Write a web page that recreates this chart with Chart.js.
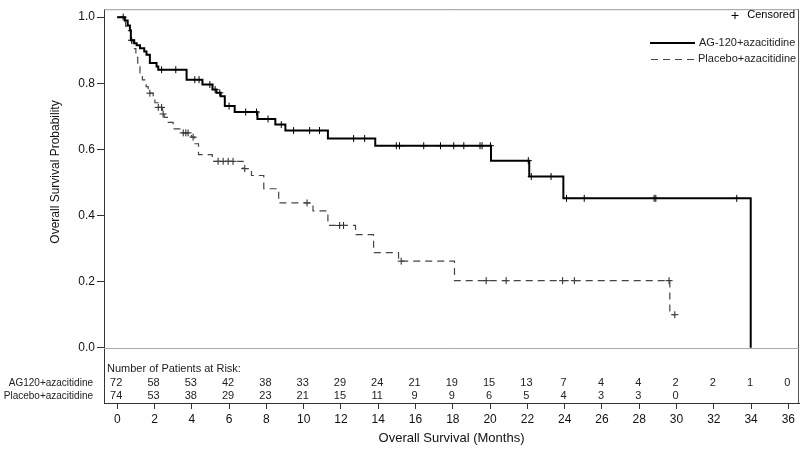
<!DOCTYPE html>
<html>
<head>
<meta charset="utf-8">
<script src="https://cdn.jsdelivr.net/npm/chart.js@4.4.1/dist/chart.umd.min.js"></script>
<style>
  html, body { margin: 0; padding: 0; background: #fff; }
</style>
</head>
<body>
<canvas id="km" width="804" height="457"></canvas>
<script>
// x axis ticks (months)
var monthTicks = [0, 2, 4, 6, 8, 10, 12, 14, 16, 18, 20, 22, 24, 26, 28, 30, 32, 34, 36];
var probTicks = [0, 0.2, 0.4, 0.6, 0.8, 1.0];

// AG-120+azacitidine: event times and survival after each step
var agTimes = [0, 0.41, 0.56, 0.68, 0.73, 0.91, 1.04, 1.22, 1.45, 1.57, 1.75, 2.11, 2.20, 3.72, 4.57, 5.11, 5.32, 5.55, 5.77, 6.30, 7.52, 8.48, 9.02, 11.30, 13.84, 20.05, 22.10, 23.93, 33.98];
var agSurv  = [1.0, 0.990, 0.975, 0.960, 0.930, 0.921, 0.915, 0.906, 0.896, 0.886, 0.861, 0.851, 0.841, 0.811, 0.796, 0.781, 0.771, 0.761, 0.731, 0.713, 0.692, 0.675, 0.657, 0.633, 0.611, 0.566, 0.518, 0.452, 0];
var agCensor = [0.32, 0.77, 2.38, 3.14, 4.16, 4.39, 4.97, 5.25, 5.50, 6.0, 6.89, 7.47, 8.09, 8.8, 9.46, 10.32, 10.85, 12.68, 13.27, 14.97, 15.14, 16.44, 17.34, 18.05, 18.59, 19.46, 19.57, 20.02, 22.05, 22.21, 23.27, 24.10, 25.05, 28.80, 28.89, 33.23];

// Placebo+azacitidine
var plTimes = [0, 0.30, 0.45, 0.60, 0.72, 0.85, 1.00, 1.10, 1.22, 1.35, 1.55, 1.66, 1.93, 2.02, 2.20, 2.43, 2.52, 2.73, 3.00, 3.36, 3.98, 4.16, 4.36, 5.10, 6.75, 7.20, 7.86, 8.66, 10.50, 11.30, 12.78, 13.75, 15.09, 18.09, 29.64, 29.91];
var plSurv  = [1.0, 0.986, 0.973, 0.959, 0.932, 0.905, 0.878, 0.851, 0.824, 0.810, 0.790, 0.770, 0.756, 0.741, 0.727, 0.707, 0.697, 0.682, 0.662, 0.650, 0.637, 0.617, 0.584, 0.564, 0.542, 0.521, 0.481, 0.438, 0.414, 0.370, 0.342, 0.288, 0.262, 0.203, 0.100, 0.100];
var plCensor = [1.75, 2.20, 2.38, 2.46, 3.54, 3.68, 3.80, 4.07, 5.41, 5.68, 5.95, 6.21, 6.84, 10.18, 11.93, 12.14, 15.23, 19.79, 20.86, 23.89, 24.52, 29.60, 29.91];

// number at risk at each 2-month tick
var agAtRisk = [72, 58, 53, 42, 38, 33, 29, 24, 21, 19, 15, 13, 7, 4, 4, 2, 2, 1, 0];
var plAtRisk = [74, 53, 38, 29, 23, 21, 15, 11, 9, 9, 6, 5, 4, 3, 3, 0];

var agLabel = 'AG-120+azacitidine';
var plLabel = 'Placebo+azacitidine';

function survAt(times, surv, t) {
    var s = surv[0];
    for (var i = 0; i < times.length; i++) {
        if (times[i] <= t) s = surv[i];
    }
    return s;
}

function stepPoints(times, surv) {
    return times.map(function (t, i) { return { x: t, y: surv[i] }; });
}

function censorPoints(cens, times, surv) {
    return cens.map(function (t) { return { x: t, y: survAt(times, surv, t) }; });
}

var FONT = '"Liberation Sans", Arial, sans-serif';

var decor = {
    id: 'kmDecor',
    beforeDatasetsDraw: function (chart) {
        var ctx = chart.ctx, a = chart.chartArea, y = chart.scales.y;
        ctx.save();
        // frame top / right
        ctx.strokeStyle = '#9a9a9a';
        ctx.lineWidth = 1;
        ctx.beginPath();
        ctx.moveTo(a.left, a.top + 0.5);
        ctx.lineTo(a.right - 0.5, a.top + 0.5);
        ctx.stroke();
        ctx.strokeStyle = '#555';
        ctx.beginPath();
        ctx.moveTo(a.right - 0.5, a.top);
        ctx.lineTo(a.right - 0.5, a.bottom);
        ctx.stroke();
        // reference line at 0
        var y0 = Math.round(y.getPixelForValue(0)) + 0.5;
        ctx.strokeStyle = '#aaaaaa';
        ctx.beginPath();
        ctx.moveTo(a.left, y0);
        ctx.lineTo(a.right, y0);
        ctx.stroke();
        ctx.restore();
    },
    afterDraw: function (chart) {
        var ctx = chart.ctx, a = chart.chartArea, x = chart.scales.x;
        ctx.save();
        ctx.fillStyle = '#222';
        ctx.textBaseline = 'middle';

        // risk table
        ctx.font = '11px ' + FONT;
        ctx.textAlign = 'left';
        ctx.fillText('Number of Patients at Risk:', a.left + 3, 369);
        ctx.textAlign = 'right';
        ctx.font = '10px ' + FONT;
        ctx.fillText('AG120+azacitidine', 93, 383);
        ctx.fillText(plLabel, 93, 396);
        ctx.font = '11px ' + FONT;
        ctx.textAlign = 'center';
        agAtRisk.forEach(function (n, i) {
            ctx.fillText(String(n), x.getPixelForValue(monthTicks[i]) - 1, 383);
        });
        plAtRisk.forEach(function (n, i) {
            ctx.fillText(String(n), x.getPixelForValue(monthTicks[i]) - 1, 396);
        });

        // axis titles
        ctx.fillStyle = '#111';
        ctx.font = '13px ' + FONT;
        ctx.fillText('Overall Survival (Months)', (a.left + a.right) / 2, 438);
        ctx.save();
        ctx.translate(56, 172);
        ctx.rotate(-Math.PI / 2);
        ctx.font = '12px ' + FONT;
        ctx.fillText('Overall Survival Probability', 0, 0);
        ctx.restore();

        // legend
        ctx.fillStyle = '#000';
        ctx.font = '11px ' + FONT;
        ctx.textAlign = 'right';
        ctx.fillText('Censored', 795, 15);
        ctx.strokeStyle = '#000';
        ctx.lineWidth = 1;
        ctx.beginPath();
        ctx.moveTo(731.5, 15.5); ctx.lineTo(738.5, 15.5);
        ctx.moveTo(735, 12); ctx.lineTo(735, 19);
        ctx.stroke();

        ctx.font = '11px ' + FONT;
        ctx.textAlign = 'left';
        ctx.fillStyle = '#222';
        ctx.fillText(agLabel, 699, 43);
        ctx.fillText(plLabel, 698, 59);
        ctx.lineWidth = 2;
        ctx.beginPath();
        ctx.moveTo(650, 43); ctx.lineTo(695, 43);
        ctx.stroke();
        ctx.lineWidth = 1.2;
        ctx.strokeStyle = '#444';
        ctx.setLineDash([7, 5]);
        ctx.beginPath();
        ctx.moveTo(651, 59.5); ctx.lineTo(695, 59.5);
        ctx.stroke();
        ctx.restore();
    }
};

new Chart(document.getElementById('km'), {
    type: 'line',
    data: {
        datasets: [
            {
                label: agLabel,
                data: stepPoints(agTimes, agSurv),
                stepped: 'before',
                borderColor: '#000',
                borderWidth: 2,
                pointRadius: 0,
                fill: false
            },
            {
                label: plLabel,
                data: stepPoints(plTimes, plSurv),
                stepped: 'before',
                borderColor: '#444',
                borderWidth: 1.2,
                borderDash: [7, 5],
                pointRadius: 0,
                fill: false
            },
            {
                label: 'AG censored',
                data: censorPoints(agCensor, agTimes, agSurv),
                showLine: false,
                pointStyle: 'cross',
                pointRadius: 3.5,
                borderColor: '#000',
                pointBorderWidth: 1
            },
            {
                label: 'Placebo censored',
                data: censorPoints(plCensor, plTimes, plSurv),
                showLine: false,
                pointStyle: 'cross',
                pointRadius: 3.5,
                borderColor: '#222',
                pointBorderWidth: 1
            }
        ]
    },
    options: {
        responsive: false,
        animation: false,
        devicePixelRatio: 1,
        layout: { padding: { top: 4, right: 4, left: 0, bottom: 0 } },
        plugins: {
            legend: { display: false },
            tooltip: { enabled: false }
        },
        scales: {
            x: {
                type: 'linear',
                min: -0.71,
                max: 36.57,
                afterBuildTicks: function (s) { s.ticks = monthTicks.map(function (v) { return { value: v }; }); },
                afterFit: function (s) { s.height = 54; },
                grid: { drawOnChartArea: false, tickLength: 6, tickColor: '#333' },
                border: { color: '#333' },
                ticks: { color: '#111', font: { size: 12, family: FONT }, padding: 3, maxRotation: 0, autoSkip: false }
            },
            y: {
                min: -0.167,
                max: 1.024,
                afterBuildTicks: function (s) { s.ticks = probTicks.map(function (v) { return { value: v }; }); },
                afterFit: function (s) { s.width = 104; },
                grid: { drawOnChartArea: false, tickLength: 7, tickColor: '#333' },
                border: { color: '#333' },
                ticks: {
                    color: '#111',
                    font: { size: 12, family: FONT },
                    padding: 2,
                    callback: function (v) { return Number(v).toFixed(1); }
                }
            }
        }
    },
    plugins: [decor]
});
</script>
</body>
</html>
